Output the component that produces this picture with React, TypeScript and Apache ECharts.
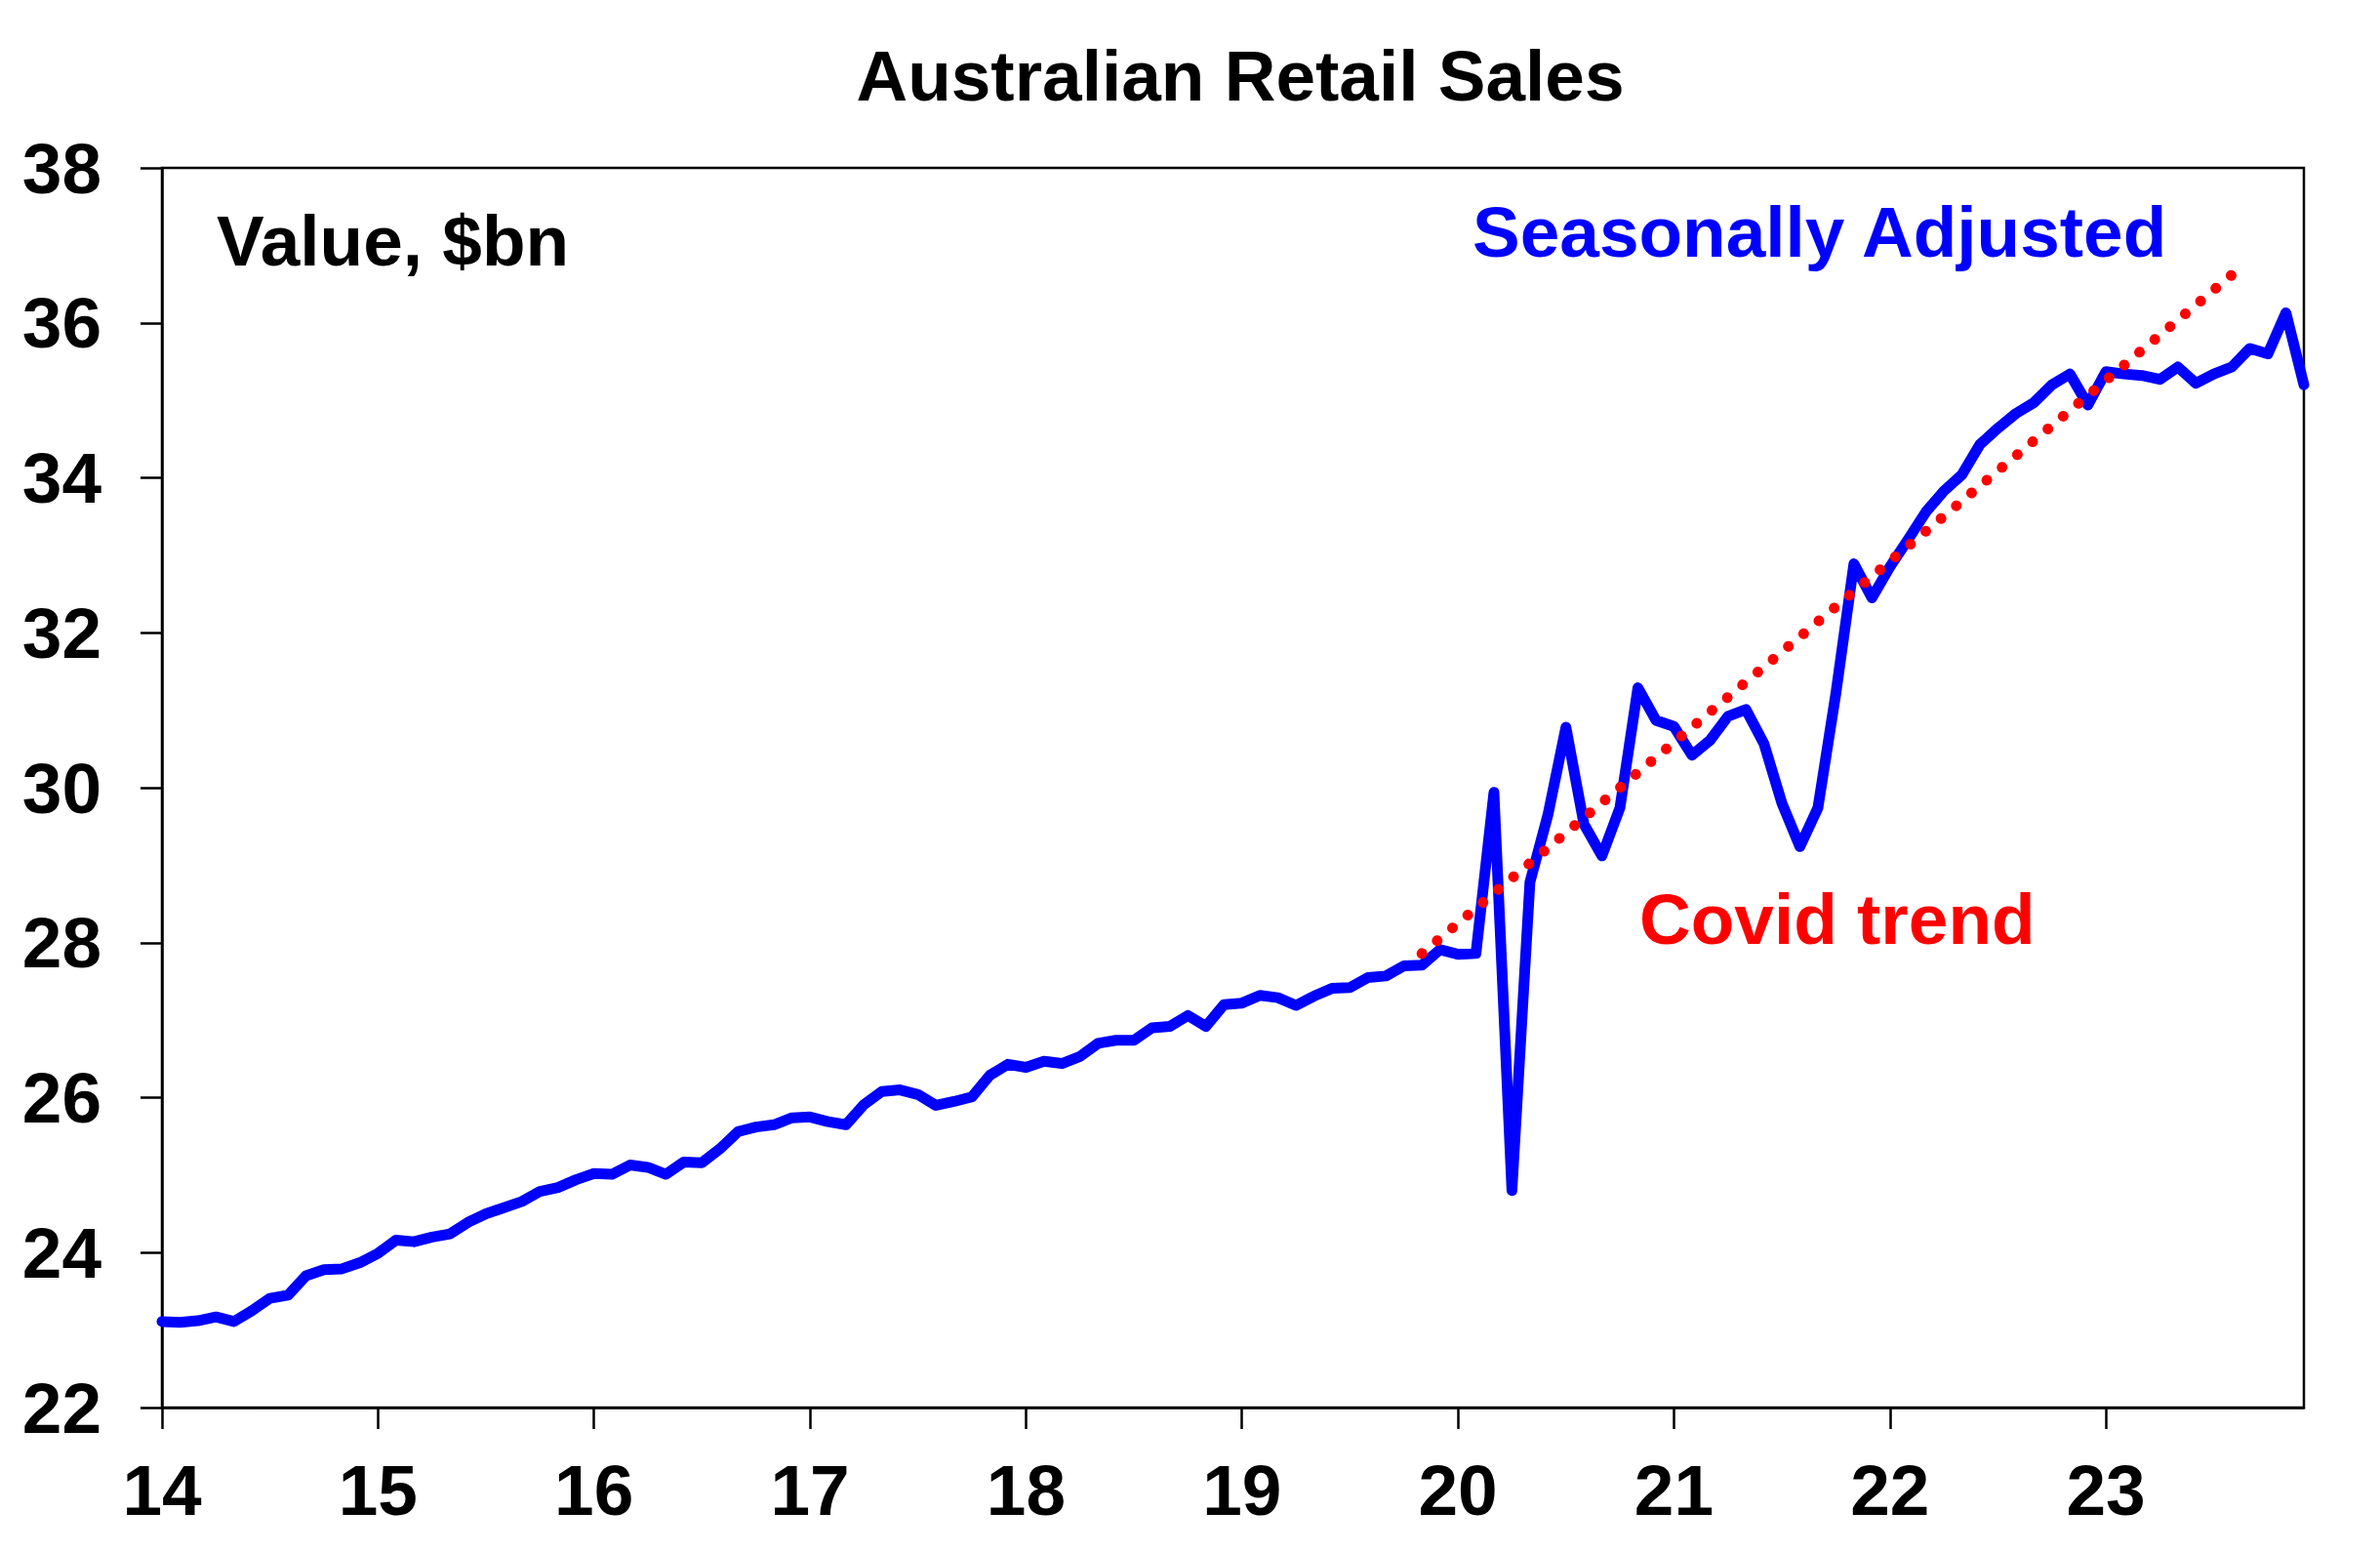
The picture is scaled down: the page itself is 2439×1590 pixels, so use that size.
import React, { useEffect, useRef } from "react";
import * as echarts from "echarts";

// Monthly categories Jan 2014 .. Dec 2023
const startYear = 2014;
const endYear = 2023;
const months: string[] = [];
for (let y = startYear; y <= endYear; y++) {
  for (let m = 1; m <= 12; m++) {
    months.push(`${y}-${m < 10 ? "0" + m : m}`);
  }
}

// Retail sales, seasonally adjusted, $bn
const retailSA: number[] = [
  23.11, 23.10, 23.12, 23.17, 23.11, 23.25, 23.41, 23.45, 23.70, 23.78, 23.79, 23.87,
  23.99, 24.16, 24.14, 24.20, 24.24, 24.39, 24.50, 24.58, 24.66, 24.79, 24.84, 24.94,
  25.02, 25.01, 25.13, 25.10, 25.01, 25.17, 25.16, 25.34, 25.56, 25.62, 25.65, 25.74,
  25.75, 25.69, 25.65, 25.91, 26.08, 26.10, 26.04, 25.90, 25.95, 26.01, 26.29, 26.43,
  26.39, 26.47, 26.44, 26.53, 26.70, 26.74, 26.74, 26.90, 26.92, 27.06, 26.92, 27.20,
  27.22, 27.32, 27.29, 27.19, 27.31, 27.41, 27.42, 27.55, 27.57, 27.70, 27.71, 27.91,
  27.85, 27.86, 29.94, 24.80, 28.78, 29.65, 30.78, 29.53, 29.12, 29.74, 31.29, 30.87,
  30.79, 30.42, 30.61, 30.92, 31.01, 30.57, 29.80, 29.24, 29.74, 31.22, 32.89, 32.45,
  32.85, 33.20, 33.56, 33.83, 34.04, 34.43, 34.64, 34.83, 34.97, 35.20, 35.34, 34.94,
  35.37, 35.34, 35.32, 35.27, 35.43, 35.22, 35.34, 35.43, 35.67, 35.60, 36.13, 35.20,
];

// Covid trend line end points
const trendMonths: string[] = ["2019-11", "2023-08"];
const trendValues: number[] = [27.86, 36.62];

const yTicks = { min: 22, max: 38, interval: 2 };

const FONT = '"Liberation Sans", Arial, sans-serif';

export default function App() {
  const ref = useRef<HTMLDivElement>(null);

  useEffect(() => {
    if (!ref.current) return;
    const chart = echarts.init(ref.current, null, { renderer: "svg" });
    const yearTick = (i: number) => i % 12 === 0;
    chart.setOption({
      animation: false,
      backgroundColor: "#ffffff",
      grid: {
        left: 166,
        right: 78,
        top: 172,
        bottom: 148,
        show: true,
        borderColor: "#000",
        borderWidth: 2.5,
        containLabel: false,
      },
      xAxis: {
        type: "category",
        data: months,
        boundaryGap: false,
        axisLine: { show: true, lineStyle: { color: "#000", width: 2.5 } },
        axisTick: {
          show: true,
          interval: (i: number) => yearTick(i),
          length: 22,
          lineStyle: { color: "#000", width: 2.5 },
        },
        axisLabel: {
          interval: (i: number) => yearTick(i),
          formatter: (v: string) => v.slice(2, 4),
          color: "#000",
          fontSize: 73,
          fontWeight: "bold",
          fontFamily: FONT,
          margin: 48,
        },
        splitLine: { show: false },
      },
      yAxis: {
        type: "value",
        min: yTicks.min,
        max: yTicks.max,
        interval: yTicks.interval,
        axisLine: { show: true, lineStyle: { color: "#000", width: 2.5 } },
        axisTick: { show: true, length: 22, lineStyle: { color: "#000", width: 2.5 } },
        axisLabel: {
          color: "#000",
          fontSize: 73,
          fontWeight: "bold",
          fontFamily: FONT,
          margin: 62,
        },
        splitLine: { show: false },
      },
      series: [
        {
          name: "Seasonally Adjusted",
          type: "line",
          data: retailSA,
          symbol: "none",
          lineStyle: { color: "#0000FF", width: 11, join: "round", cap: "round" },
          z: 2,
        },
        {
          name: "Covid trend",
          type: "line",
          data: trendMonths.map((m, i) => [m, trendValues[i]]),
          symbol: "none",
          lineStyle: { color: "#FF0000", width: 11, type: [0.01, 20.4], cap: "round" },
          z: 3,
        },
      ],
      graphic: [
        {
          type: "text",
          x: 1271,
          y: 77,
          style: {
            text: "Australian Retail Sales",
            fill: "#000",
            font: `bold 73px ${FONT}`,
            textAlign: "center",
            textVerticalAlign: "middle",
          },
        },
        {
          type: "text",
          x: 222,
          y: 246,
          style: {
            text: "Value, $bn",
            fill: "#000",
            font: `bold 73px ${FONT}`,
            textAlign: "left",
            textVerticalAlign: "middle",
          },
        },
        {
          type: "text",
          x: 1509,
          y: 237,
          style: {
            text: "Seasonally Adjusted",
            fill: "#0000FF",
            font: `bold 73px ${FONT}`,
            textAlign: "left",
            textVerticalAlign: "middle",
          },
        },
        {
          type: "text",
          x: 1680,
          y: 941,
          style: {
            text: "Covid trend",
            fill: "#FF0000",
            font: `bold 73px ${FONT}`,
            textAlign: "left",
            textVerticalAlign: "middle",
          },
        },
      ],
    });
    return () => chart.dispose();
  }, []);

  return (
    <div
      ref={ref}
      style={{ position: "fixed", left: 0, top: 0, width: 2439, height: 1590, background: "#fff" }}
    />
  );
}
